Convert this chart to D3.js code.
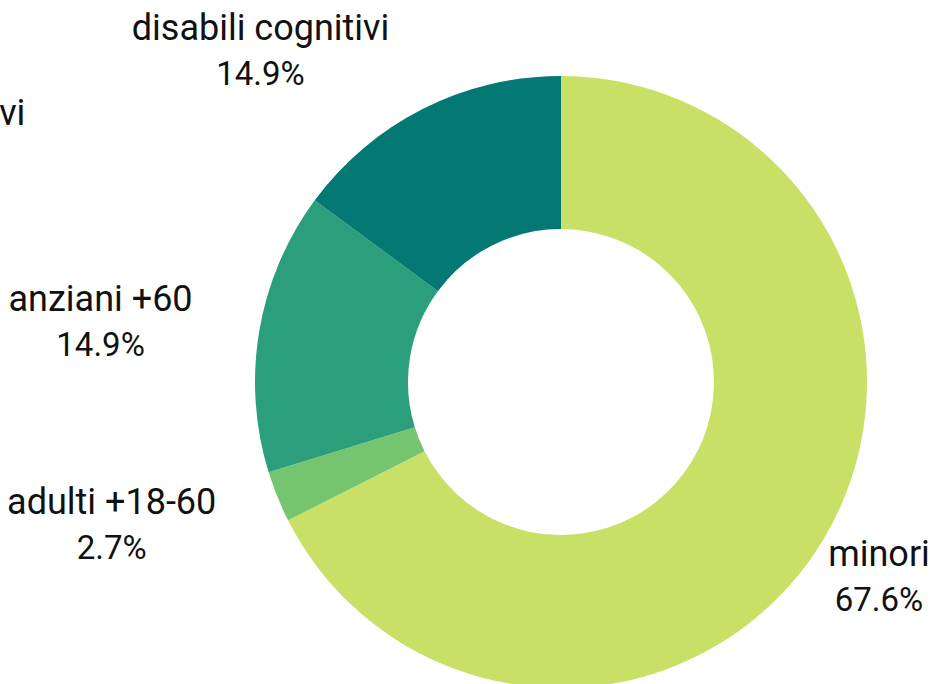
<!DOCTYPE html>
<html>
<head>
<meta charset="utf-8">
<script src="https://cdn.jsdelivr.net/npm/d3@7"></script>
<style>
  html, body { margin: 0; padding: 0; background: #fff; }
  svg { display: block; }
</style>
</head>
<body>
<svg width="935" height="684"></svg>
<script>
// dati
const categorie = ['minori', 'adulti +18-60', 'anziani +60', 'disabili cognitivi', 'disabili fisici gravi'];
const valori = [67.6, 2.7, 14.9, 14.9, 0.0];
const colori = ['#c9e067', '#75c46f', '#2b9f7b', '#047872', '#0b5a5a'];

// posizione delle etichette: raggio, spostamento angolare (gradi), allineamento
const posEtichette = [
    { r: 379, da: 1.4, anchor: 'middle' },
    { r: 475, da: 3.1, anchor: 'middle' },
    { r: 463, da: -3.6, anchor: 'middle' },
    { r: 439, da: -16.4, anchor: 'middle' },
    { r: 585, da: -66.3, anchor: 'end' }
];

function drawDonut() {
    const svg = d3.select('svg');
    const attr_area = { cx: 561, cy: 382, outer: 306, inner: 153 };

    const data = categorie.map((c, i) => ({ label: c, value: valori[i], color: colori[i], pos: posEtichette[i] }));

    const pie = d3.pie()
        .sort(null)
        .value(d => d.value);

    const arc = d3.arc()
        .innerRadius(attr_area.inner)
        .outerRadius(attr_area.outer);

    const g = svg.append('g')
        .attr('transform', `translate(${attr_area.cx}, ${attr_area.cy})`);

    const arcs = pie(data);

    g.selectAll('path')
        .data(arcs.filter(d => d.data.value > 0))
        .enter()
        .append('path')
        .attr('d', arc)
        .attr('fill', d => d.data.color);

    const fmt = d3.format('.1f');
    const font = 'Roboto, sans-serif';

    const lab = g.selectAll('.lab')
        .data(arcs).enter()
        .append('g')
        .attr('class', 'lab')
        .attr('transform', d => {
            const a = (d.startAngle + d.endAngle) / 2 + d.data.pos.da * Math.PI / 180;
            return `translate(${Math.sin(a) * d.data.pos.r}, ${-Math.cos(a) * d.data.pos.r})`;
        });

    lab.append('text')
        .attr('class', 'nome')
        .attr('text-anchor', d => d.data.pos.anchor)
        .attr('y', -22)
        .style('font-family', font)
        .style('font-weight', 400)
        .style('font-size', '36px')
        .style('fill', '#111')
        .text(d => d.data.label);

    lab.append('text')
        .attr('text-anchor', 'middle')
        .attr('x', function(d) {
            if (d.data.pos.anchor !== 'end') return 0;
            const w = this.parentNode.querySelector('.nome').getComputedTextLength();
            return -w / 2;
        })
        .attr('y', 23)
        .style('font-family', font)
        .style('font-weight', 400)
        .style('font-size', '33px')
        .style('fill', '#111')
        .text(d => fmt(d.data.value) + '%');
}

drawDonut();
</script>
</body>
</html>
